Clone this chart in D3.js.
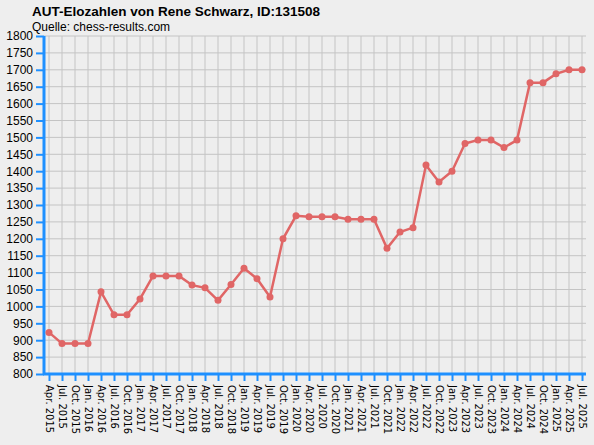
<!DOCTYPE html><html><head><meta charset="utf-8"><script src="https://d3js.org/d3.v7.min.js"></script>
<style>body{margin:0;background:#eeeeee}svg{display:block}</style></head><body><svg width="594" height="445"></svg>
<script>
const labels=["Apr. 2015","Jul. 2015","Oct. 2015","Jan. 2016","Apr. 2016","Jul. 2016","Oct. 2016","Jan. 2017","Apr. 2017","Jul. 2017","Oct. 2017","Jan. 2018","Apr. 2018","Jul. 2018","Oct. 2018","Jan. 2019","Apr. 2019","Jul. 2019","Oct. 2019","Jan. 2020","Apr. 2020","Jul. 2020","Oct. 2020","Jan. 2021","Apr. 2021","Jul. 2021","Oct. 2021","Jan. 2022","Apr. 2022","Jul. 2022","Oct. 2022","Jan. 2023","Apr. 2023","Jul. 2023","Oct. 2023","Jan. 2024","Apr. 2024","Jul. 2024","Oct. 2024","Jan. 2025","Apr. 2025","Jul. 2025"];
const elo=[923,890,890,890,1043,975,975,1022,1090,1090,1090,1063,1055,1018,1065,1113,1082,1028,1200,1268,1265,1265,1265,1258,1258,1258,1172,1220,1233,1418,1368,1400,1482,1492,1492,1470,1492,1662,1662,1688,1700,1700];
const yTicks=d3.range(800,1801,50);
const svg=d3.select("svg");
const x=d3.scaleLinear().domain([0,labels.length-1]).range([49,582]);
const y=d3.scaleLinear().domain([800,1800]).range([374,36]);
const L=44,R=586;
svg.append("text").attr("x",32).attr("y",16).attr("font-family","Liberation Sans, Arial").attr("font-weight","bold").attr("font-size",13.5).text("AUT-Elozahlen von Rene Schwarz, ID:131508");
svg.append("text").attr("x",32).attr("y",31).attr("font-family","Liberation Sans, Arial").attr("font-size",12).text("Quelle: chess-results.com");
const g=svg.append("g");
g.selectAll(".hg").data(yTicks).join("line").attr("x1",L).attr("x2",R).attr("y1",d=>y(d)).attr("y2",d=>y(d)).attr("stroke","#c4c4c4");
g.selectAll(".vg").data(labels).join("line").attr("x1",(d,i)=>x(i)).attr("x2",(d,i)=>x(i)).attr("y1",36).attr("y2",374).attr("stroke","#c4c4c4");
const ya=svg.append("g").attr("transform",`translate(${L},0)`).call(d3.axisLeft(y).tickValues(yTicks).tickSize(8).tickPadding(3).tickFormat(d3.format("d")));
ya.select(".domain").remove();
ya.selectAll("line").attr("stroke","#1e90ff").attr("stroke-width",2).attr("x2",0).attr("x1",-8);
ya.selectAll("text").attr("font-family","Liberation Sans, Arial").attr("font-size",12).attr("fill","#000");
svg.append("line").attr("x1",L).attr("x2",L).attr("y1",36).attr("y2",375).attr("stroke","#1e90ff").attr("stroke-width",3);
const xa=svg.append("g").attr("transform","translate(0,374)").call(d3.axisBottom(x).tickValues(d3.range(labels.length)).tickSize(7).tickPadding(4).tickFormat(i=>labels[i]));
xa.select(".domain").remove();
xa.selectAll("line").attr("stroke","#1e90ff").attr("stroke-width",2);
xa.selectAll("text").attr("font-family","DejaVu Sans, Liberation Sans").attr("font-size",10).attr("fill","#000")
 .attr("transform","rotate(90)").attr("text-anchor","start").attr("dy","0.35em").attr("x",11).attr("y",0);
svg.append("line").attr("x1",L-1).attr("x2",R).attr("y1",374).attr("y2",374).attr("stroke","#1e90ff").attr("stroke-width",3);
const line=d3.line().x((d,i)=>x(i)).y(d=>y(d));
svg.append("path").datum(elo).attr("d",line).attr("fill","none").attr("stroke","#e06666").attr("stroke-width",2.5);
svg.selectAll(".pt").data(elo).join("circle").attr("cx",(d,i)=>x(i)).attr("cy",d=>y(d)).attr("r",3.5).attr("fill","#e06666");
</script></body></html>
